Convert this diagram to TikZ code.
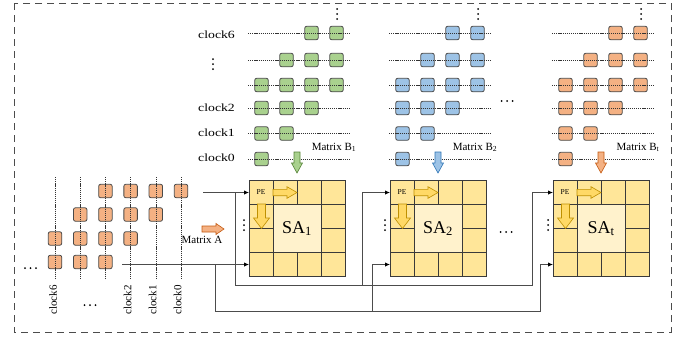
\documentclass[tikz,border=0pt]{standalone}
\usepackage{fontspec}
\setmainfont{Liberation Serif}
\usetikzlibrary{arrows.meta}
\definecolor{orf}{HTML}{F4B183}
\definecolor{grf}{HTML}{A9D18E}
\definecolor{blf}{HTML}{9DC3E6}
\definecolor{saf}{HTML}{FFE699}
\definecolor{sain}{HTML}{FFF2CC}
\definecolor{yarf}{HTML}{FFD966}
\definecolor{yard}{HTML}{BF9000}
\definecolor{ord}{HTML}{C55A11}
\definecolor{grd}{HTML}{548235}
\definecolor{bld}{HTML}{2E75B6}
\definecolor{sqd}{HTML}{4A4A4A}
\definecolor{sagrid}{HTML}{3A3A3A}
\newcommand\blkright[7]{\draw[#1] ({#2},{#5-#6}) -- ({#3},{#5-#6}) -- ({#3},{#5-#7}) -- ({#4},{#5}) -- ({#3},{#5+#7}) -- ({#3},{#5+#6}) -- ({#2},{#5+#6}) -- cycle;}
\newcommand\blkdown[7]{\draw[#1] ({#5-#6},{#2}) -- ({#5-#6},{#3}) -- ({#5-#7},{#3}) -- ({#5},{#4}) -- ({#5+#7},{#3}) -- ({#5+#6},{#3}) -- ({#5+#6},{#2}) -- cycle;}
\newcommand\myvdots[2]{\fill ({#1},{#2-5}) circle (1pt) ({#1},{#2}) circle (1pt) ({#1},{#2+5}) circle (1pt);}
\newcommand\myhdots[2]{\fill ({#1-5.5},{#2}) circle (1pt) ({#1},{#2}) circle (1pt) ({#1+5.5},{#2}) circle (1pt);}
\begin{document}
\begin{tikzpicture}[x=1pt,y=-1pt,
  sq/.style={draw=sqd,line width=0.8pt,rounded corners=2pt,minimum size=13.5pt,inner sep=0pt},
  dotl/.style={draw=black!80,line width=0.55pt,dash pattern=on 1.2pt off 0.9pt},
  conn/.style={draw=black!70,line width=0.9pt},
  tip/.style={-{Latex[length=5pt,width=4.5pt,black]}},
  lbl/.style={font=\fontsize{11}{12}\selectfont,inner sep=0pt},
  toplbl/.style={font=\fontsize{11}{12}\selectfont,inner sep=0pt,anchor=west},
  gridl/.style={draw=sagrid,line width=0.7pt},
  yarrow/.style={fill=yarf,draw=yard,line width=0.6pt},
  orarrow/.style={fill=orf,draw=ord,line width=0.6pt}]
\useasboundingbox (0,0) rectangle (680,338);
\draw[draw=black!70,line width=0.9pt,dash pattern=on 7pt off 5pt] (14,3) rectangle (671,332);
% top-left clock labels
\node[toplbl] (t6) at (198,35) {\scalebox{1.25}[1]{clock6}};
\myvdots{213}{64}
\node[toplbl] (t2) at (198,108) {\scalebox{1.25}[1]{clock2}};
\node[toplbl] (t1) at (198,133) {\scalebox{1.25}[1]{clock1}};
\node[toplbl] (t0) at (198,158) {\scalebox{1.25}[1]{clock0}};
% matrices B and systolic arrays
\foreach \i/\L/\col/\dcol/\sub in {1/249/grf/grd/1, 2/390/blf/bld/2, 3/553/orf/ord/t} {
  \foreach \y/\cols [count=\r] in {33/{2,3}, 60/{1,2,3}, 85/{0,1,2,3}, 108/{0,1,2}, 133.5/{0,1}, 159/{0}} {
    \foreach \c in \cols {
      \node[sq,fill=\col] (b\i-\r-\c) at (\L+12.5+25*\c,\y) {};
    }
  }
  \foreach \y in {33,60,85,108,133.5,159} {
    \draw[dotl] (\L-1,\y) -- (\L+101,\y);
  }
  \myvdots{\L+88}{14}
  \node[lbl] (mb\i) at (\L+85,147.5) {Matrix B\textsubscript{\sub}};
  \blkdown{fill=\col,draw=\dcol,line width=0.6pt}{152}{163}{173}{\L+48}{3}{5.5}
  % systolic array
  \node[draw=sagrid,fill=saf,line width=0.7pt,minimum size=96pt,inner sep=0pt] (sa\i) at (\L+48,228.5) {};
  \foreach \k in {24,48,72} {
    \draw[gridl] (\L+\k,180.5) -- (\L+\k,276.5);
    \draw[gridl] (\L,180.5+\k) -- (\L+96,180.5+\k);
  }
  \node[draw=sagrid,fill=sain,line width=0.7pt,minimum size=48pt,inner sep=0pt,font=\fontsize{18}{18}\selectfont] (sai\i) at (\L+48,228.5) {SA\textsubscript{\sub}};
  \node[font=\fontsize{7.5}{8}\selectfont,inner sep=0pt] (pe\i) at (\L+12,192.5) {PE};
  \blkright{yarrow}{\L+24}{\L+38}{\L+48}{192.5}{3.2}{5.8}
  \blkdown{yarrow}{204}{218}{228.5}{\L+12.5}{4}{8}
  \myvdots{\L-5}{225}
  \coordinate (s\i r0) at (\L,192.5);
  \coordinate (s\i r3) at (\L,264.5);
}
\myhdots{507}{101}
\myhdots{506}{232}
% matrix A
\foreach \y/\cols [count=\r] in {191/{2,3,4,5}, 214.5/{1,2,3,4}, 238.5/{0,1,2,3}, 262/{0,1,2}} {
  \foreach \c in \cols {
    \node[sq,fill=orf] (a-\r-\c) at (55+25.2*\c,\y) {};
  }
}
\foreach \c in {0,...,5} {
  \draw[dotl] (55+25.2*\c,177) -- (55+25.2*\c,278);
}
\myhdots{30.5}{268}
\myhdots{90}{305}
\node[lbl,rotate=90,anchor=east] (c6) at (53,285) {clock6};
\node[lbl,rotate=90,anchor=east] (c2) at (127.5,285) {clock2};
\node[lbl,rotate=90,anchor=east] (c1) at (152.5,285) {clock1};
\node[lbl,rotate=90,anchor=east] (c0) at (177.5,285) {clock0};
\blkright{orarrow}{202}{216}{224}{229}{3}{5.5}
\node[lbl] (ma) at (202,239.5) {Matrix A};
% connectors
\coordinate (ain0) at (203,192.5);
\coordinate (ain3) at (122,264.5);
\coordinate (br0) at (235,192.5);
\coordinate (br3) at (215,264.5);
\coordinate (j0) at (362,285);
\coordinate (j3) at (372,311.5);
\coordinate (k0) at (532,285);
\coordinate (k3) at (540,311.5);
\draw[conn,tip] (ain0) -- (s1r0);
\draw[conn,tip] (ain3) -- (s1r3);
\draw[conn,tip] (br0) |- (j0) |- (s2r0);
\draw[conn,tip] (j0) -- (k0) |- (s3r0);
\draw[conn,tip] (br3) |- (j3) |- (s2r3);
\draw[conn,tip] (j3) -- (k3) |- (s3r3);
\end{tikzpicture}
\end{document}
